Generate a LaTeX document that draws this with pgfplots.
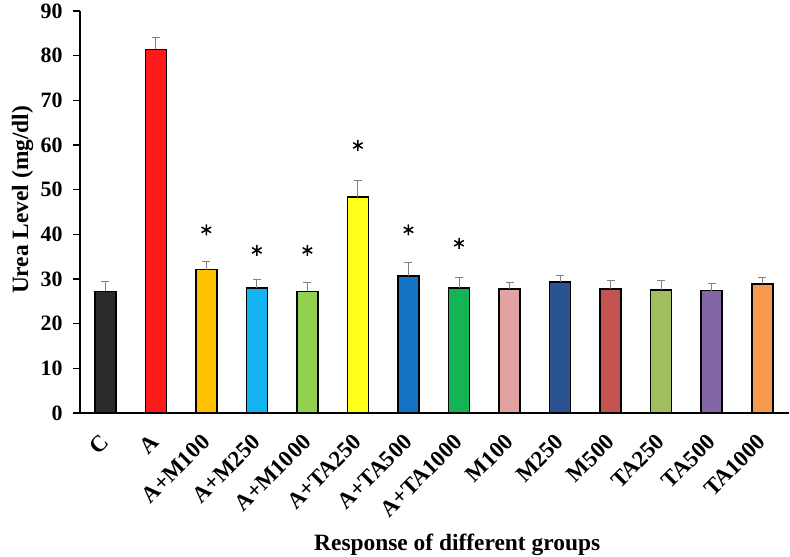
\documentclass[border=0pt]{standalone}
\usepackage{fontspec}
\setmainfont{Liberation Serif}
\usepackage{pgfplots}
\pgfplotsset{compat=1.18}
\definecolor{cC}{HTML}{2B2B2B}
\definecolor{cA}{HTML}{FF1A1A}
\definecolor{cAM1}{HTML}{FFC000}
\definecolor{cAM2}{HTML}{14B4F0}
\definecolor{cAM3}{HTML}{92D050}
\definecolor{cAT1}{HTML}{FFFF1A}
\definecolor{cAT2}{HTML}{1474C4}
\definecolor{cAT3}{HTML}{14B454}
\definecolor{cM1}{HTML}{E2A2A2}
\definecolor{cM2}{HTML}{2A5490}
\definecolor{cM3}{HTML}{C45452}
\definecolor{cT1}{HTML}{A0BE5E}
\definecolor{cT2}{HTML}{8466A6}
\definecolor{cT3}{HTML}{F89A4E}
\pgfplotsset{
  mybar/.style={ybar, bar width=21bp, bar shift=0pt, fill=#1, draw=black, line width=1.6bp,
    error bars/.cd, y dir=plus, y explicit,
    error bar style={line width=0.9bp, draw=gray},
    error mark options={rotate=90, mark size=4bp, line width=0.9bp, draw=gray}},
}
\begin{document}
\begin{tikzpicture}
\begin{axis}[
  name=ax,
  scale only axis, width=709bp, height=402bp,
  xmin=-0.5, xmax=13.53, ymin=0, ymax=90,
  axis x line=bottom, axis y line=left,
  axis line style={-, line width=1.6bp, black},
  ytick={0,10,...,90}, xtick={0,...,13},
  xticklabels={C,A,A+M100,A+M250,A+M1000,A+TA250,A+TA500,A+TA1000,M100,M250,M500,TA250,TA500,TA1000},
  x tick style={draw=none},
  y tick style={line width=1.6bp, black},
  tick align=outside, major tick length=7bp,
  tick label style={font=\fontsize{22}{22}\selectfont\bfseries},
  /pgf/number format/assume math mode=true,
  yticklabel style={xshift=-7bp},
  xticklabel style={font=\fontsize{23}{23}\selectfont\bfseries, xshift=2bp, yshift=-16bp, rotate=45, anchor=east},
  label style={font=\fontsize{23.5}{23.5}\selectfont\bfseries},
  xlabel={Response of different groups},
  ylabel={Urea Level (mg/dl)},
  xlabel style={at={(axis description cs:0.532,-0.343)}, anchor=base},
  ylabel style={at={(axis description cs:-0.073,0.53)}, anchor=base},
]
\addplot[mybar=cC]   coordinates {(0,27.2) +- (0,2.2)};
\addplot[mybar=cA]   coordinates {(1,81.4) +- (0,2.6)};
\addplot[mybar=cAM1] coordinates {(2,32.1) +- (0,1.8)};
\addplot[mybar=cAM2] coordinates {(3,28.0) +- (0,2.0)};
\addplot[mybar=cAM3] coordinates {(4,27.2) +- (0,2.1)};
\addplot[mybar=cAT1] coordinates {(5,48.3) +- (0,3.7)};
\addplot[mybar=cAT2] coordinates {(6,30.7) +- (0,3.0)};
\addplot[mybar=cAT3] coordinates {(7,28.0) +- (0,2.3)};
\addplot[mybar=cM1]  coordinates {(8,27.8) +- (0,1.5)};
\addplot[mybar=cM2]  coordinates {(9,29.3) +- (0,1.4)};
\addplot[mybar=cM3]  coordinates {(10,27.8) +- (0,1.9)};
\addplot[mybar=cT1]  coordinates {(11,27.6) +- (0,2.1)};
\addplot[mybar=cT2]  coordinates {(12,27.4) +- (0,1.7)};
\addplot[mybar=cT3]  coordinates {(13,28.9) +- (0,1.5)};
\addplot[only marks, mark=asterisk, mark size=5.5bp, line width=1.5bp, black]
  coordinates {(2,41) (3,36.4) (4,36.4) (5,59.9) (6,41) (7,38)};
\end{axis}
\pgfresetboundingbox
\path[use as bounding box] ([shift={(-80bp,-144bp)}]ax.south west) rectangle ([shift={(1bp,11bp)}]ax.north east);
\end{tikzpicture}
\end{document}
